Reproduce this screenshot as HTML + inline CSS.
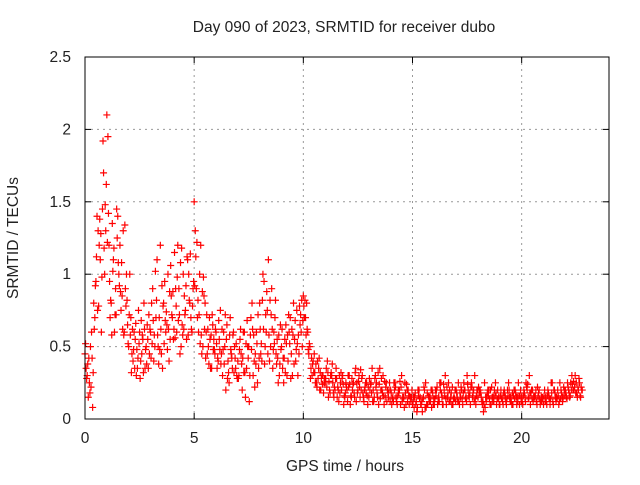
<!DOCTYPE html>
<html><head><meta charset="utf-8"><style>
body{margin:0;background:#fff;}
svg text{font-family:"Liberation Sans",sans-serif;font-size:15.5px;fill:#222;}
</style></head><body>
<svg id="chart" width="640" height="480" viewBox="0 0 640 480" xmlns="http://www.w3.org/2000/svg">
<rect width="640" height="480" fill="#fff"/>
<text x="344" y="32" text-anchor="middle">Day 090 of 2023, SRMTID for receiver dubo</text>
<text x="345" y="471" text-anchor="middle">GPS time / hours</text>
<text x="0" y="0" transform="translate(18,238) rotate(-90)" text-anchor="middle">SRMTID / TECUs</text>
<g id="grid"></g><g id="ticks"></g><g id="pts"></g>
<rect x="85" y="57" width="524" height="362" fill="none" stroke="#000" stroke-width="1"/>
</svg>
<script>
const xTicks=[0,5,10,15,20];
const yTicks=[0,0.5,1,1.5,2,2.5];
const yTickLabels=["0","0.5","1","1.5","2","2.5"];
const stepHours=0.1;
const seriesAStart=0.0;
const seriesBStart=0.05;
const seriesCStart=0.025;
const seriesDStart=0.075;
const seriesA=[0.45,0.3,0.25,0.6,0.8,0.95,1.3,1.1,1.45,1.0,
2.1,1.2,0.8,1.1,0.9,1.4,1.2,0.85,0.6,1.0,
0.5,0.7,0.4,0.55,0.35,0.6,0.45,0.8,0.5,0.35,
0.6,0.9,0.5,1.1,0.7,0.45,0.8,0.6,1.0,0.55,
0.7,1.15,0.6,0.9,0.5,1.0,0.75,1.1,0.8,0.6,
1.5,0.9,0.6,1.2,0.5,0.8,0.45,0.7,0.35,0.55,
0.6,0.4,0.75,0.3,0.5,0.65,0.25,0.45,0.6,0.35,
0.4,0.55,0.2,0.6,0.35,0.5,0.7,0.3,0.45,0.25,
0.8,0.4,0.95,0.6,1.1,0.5,0.35,0.7,0.55,0.3,
0.5,0.25,0.65,0.4,0.7,0.3,0.55,0.75,0.45,0.6,
0.85,0.7,0.6,0.5,0.3,0.45,0.25,0.35,0.2,0.3,
0.25,0.4,0.2,0.3,0.15,0.35,0.2,0.25,0.3,0.15,
0.2,0.3,0.15,0.25,0.35,0.2,0.15,0.3,0.2,0.25,
0.15,0.25,0.2,0.3,0.15,0.35,0.2,0.1,0.25,0.15,
0.2,0.15,0.25,0.1,0.2,0.3,0.15,0.1,0.2,0.15,
0.1,0.15,0.05,0.2,0.1,0.15,0.25,0.1,0.15,0.2,
0.1,0.2,0.15,0.25,0.1,0.3,0.15,0.2,0.1,0.15,
0.2,0.25,0.15,0.1,0.2,0.3,0.15,0.25,0.2,0.1,
0.15,0.2,0.1,0.25,0.15,0.2,0.1,0.15,0.25,0.2,
0.1,0.15,0.2,0.1,0.25,0.15,0.1,0.2,0.15,0.1,
0.15,0.2,0.25,0.15,0.1,0.2,0.15,0.1,0.2,0.15,
0.1,0.15,0.2,0.1,0.25,0.2,0.15,0.1,0.2,0.15,
0.2,0.25,0.15,0.3,0.2,0.25,0.2,0.15];
const seriesB=[0.35,0.15,0.5,0.08,0.7,1.4,1.2,0.6,1.7,1.3,
1.95,0.7,1.35,0.6,1.45,1.0,0.75,1.3,0.9,0.65,
1.0,0.45,0.6,0.3,0.75,0.4,0.55,0.35,0.65,0.45,
0.8,0.4,0.7,0.5,1.2,0.35,0.95,0.65,0.4,0.85,
0.55,0.9,1.2,0.45,0.65,0.85,0.55,1.0,0.7,0.9,
1.3,0.7,1.0,0.45,0.85,0.6,0.5,0.35,0.65,0.45,
0.35,0.55,0.45,0.6,0.2,0.4,0.7,0.35,0.5,0.3,
0.3,0.45,0.6,0.15,0.5,0.3,0.8,0.4,0.6,0.35,
0.45,1.0,0.5,0.75,0.4,0.9,0.6,0.45,0.25,0.65,
0.35,0.55,0.3,0.6,0.45,0.8,0.4,0.3,0.65,0.5,
0.7,0.8,0.45,0.35,0.4,0.25,0.4,0.2,0.3,0.25,
0.35,0.15,0.3,0.25,0.2,0.15,0.3,0.2,0.1,0.25,
0.3,0.1,0.2,0.15,0.25,0.3,0.2,0.15,0.25,0.1,
0.2,0.35,0.15,0.25,0.1,0.2,0.3,0.15,0.2,0.25,
0.1,0.25,0.15,0.2,0.1,0.15,0.25,0.2,0.1,0.15,
0.15,0.1,0.2,0.15,0.05,0.2,0.1,0.15,0.2,0.1,
0.2,0.1,0.25,0.15,0.2,0.1,0.25,0.15,0.1,0.2,
0.15,0.1,0.2,0.25,0.15,0.2,0.1,0.15,0.3,0.2,
0.2,0.15,0.05,0.15,0.2,0.1,0.15,0.2,0.1,0.15,
0.2,0.1,0.15,0.2,0.15,0.1,0.2,0.15,0.25,0.2,
0.1,0.15,0.2,0.3,0.2,0.15,0.2,0.15,0.1,0.15,
0.2,0.1,0.15,0.25,0.1,0.15,0.2,0.25,0.15,0.2,
0.15,0.2,0.25,0.2,0.3,0.15,0.25,0.2];
const seriesC=[0.52,0.38,0.18,0.42,0.62,1.12,0.78,1.28,1.92,1.48,
1.22,0.95,0.58,1.18,0.72,1.08,0.88,0.62,1.34,0.82,
0.72,0.32,0.48,0.66,0.42,0.28,0.58,0.62,0.38,0.72,
0.42,0.68,1.02,0.58,0.48,0.92,0.52,0.74,0.62,1.06,
0.88,0.56,0.98,0.72,1.18,0.62,0.92,0.58,1.14,0.78,
0.92,1.22,0.72,0.58,0.98,0.42,0.62,0.55,0.72,0.48,
0.52,0.68,0.38,0.48,0.72,0.28,0.58,0.42,0.32,0.52,
0.28,0.62,0.42,0.32,0.68,0.12,0.48,0.58,0.38,0.72,
0.62,0.82,0.38,0.88,0.58,0.72,0.48,0.82,0.42,0.38,
0.62,0.42,0.52,0.72,0.28,0.58,0.68,0.52,0.78,0.82,
0.78,0.58,0.48,0.28,0.38,0.32,0.22,0.42,0.28,0.18,
0.28,0.32,0.18,0.38,0.22,0.28,0.12,0.32,0.24,0.18,
0.12,0.24,0.28,0.18,0.12,0.26,0.34,0.18,0.22,0.16,
0.28,0.18,0.12,0.22,0.32,0.14,0.18,0.26,0.12,0.2,
0.18,0.12,0.22,0.16,0.26,0.12,0.08,0.24,0.16,0.12,
0.12,0.18,0.08,0.14,0.12,0.22,0.08,0.16,0.12,0.18,
0.14,0.22,0.12,0.18,0.24,0.14,0.18,0.12,0.22,0.14,
0.18,0.12,0.22,0.18,0.14,0.24,0.18,0.22,0.12,0.16,
0.22,0.18,0.12,0.08,0.18,0.14,0.22,0.12,0.18,0.14,
0.16,0.12,0.18,0.14,0.2,0.12,0.16,0.18,0.12,0.16,
0.12,0.18,0.22,0.14,0.18,0.12,0.16,0.22,0.14,0.12,
0.16,0.12,0.18,0.14,0.12,0.18,0.14,0.12,0.18,0.22,
0.18,0.22,0.16,0.24,0.22,0.18,0.28,0.22];
const seriesD=[0.28,0.42,0.22,0.32,0.92,0.75,1.38,0.98,1.18,1.62,
1.42,0.82,1.02,0.72,1.25,0.92,1.08,0.58,0.78,0.52,
0.58,0.62,0.35,0.48,0.52,0.68,0.32,0.48,0.55,0.62,
0.52,0.58,0.82,0.38,0.62,0.78,0.68,0.48,0.88,0.72,
0.62,0.78,0.68,1.08,0.58,0.72,1.12,0.82,0.62,0.95,
1.12,0.82,0.52,0.88,0.62,0.72,0.38,0.58,0.48,0.62,
0.42,0.48,0.62,0.38,0.55,0.32,0.48,0.58,0.42,0.28,
0.48,0.38,0.32,0.52,0.42,0.58,0.62,0.22,0.52,0.42,
0.52,0.62,0.72,0.45,0.82,0.62,0.52,0.38,0.58,0.48,
0.42,0.32,0.58,0.52,0.62,0.38,0.48,0.58,0.72,0.68,
0.82,0.62,0.52,0.42,0.32,0.38,0.28,0.32,0.24,0.28,
0.22,0.26,0.32,0.18,0.28,0.22,0.18,0.28,0.16,0.22,
0.22,0.16,0.24,0.32,0.18,0.22,0.28,0.12,0.18,0.22,
0.24,0.12,0.28,0.18,0.24,0.28,0.16,0.22,0.18,0.12,
0.14,0.2,0.12,0.18,0.22,0.14,0.18,0.12,0.16,0.2,
0.08,0.12,0.16,0.1,0.14,0.08,0.18,0.12,0.08,0.14,
0.16,0.12,0.2,0.1,0.16,0.22,0.12,0.18,0.14,0.12,
0.12,0.18,0.14,0.2,0.12,0.16,0.22,0.18,0.14,0.2,
0.18,0.12,0.1,0.12,0.16,0.2,0.12,0.16,0.14,0.1,
0.14,0.18,0.12,0.16,0.12,0.18,0.14,0.1,0.16,0.12,
0.16,0.12,0.24,0.18,0.14,0.16,0.12,0.18,0.12,0.14,
0.12,0.16,0.14,0.18,0.2,0.12,0.16,0.14,0.12,0.16,
0.14,0.18,0.2,0.26,0.18,0.22,0.16,0.2];

const NS="http://www.w3.org/2000/svg";
const X0=85,X1=609,Y0=419,Y1=57,XMAX=24,YMAX=2.5;
function xs(v){return X0+(X1-X0)*v/XMAX;}
function ys(v){return Y0-(Y0-Y1)*v/YMAX;}
function mk(tag,attrs,parent){const e=document.createElementNS(NS,tag);for(const k in attrs)e.setAttribute(k,attrs[k]);parent.appendChild(e);return e;}
const grid=document.getElementById('grid'),ticks=document.getElementById('ticks'),pts=document.getElementById('pts');
xTicks.forEach(t=>{
  const x=xs(t);
  if(t>0){const g=mk('line',{x1:x,x2:x,y1:Y1,y2:Y0,stroke:'#999','stroke-dasharray':'2,4'},grid);
  
  }
  mk('line',{x1:x,x2:x,y1:Y0,y2:Y0-6,stroke:'#000'},ticks);
  mk('line',{x1:x,x2:x,y1:Y1,y2:Y1+6,stroke:'#000'},ticks);
  const l=mk('text',{x:x,y:Y0+24,'text-anchor':'middle'},ticks);l.textContent=String(t);
  
  
});
yTicks.forEach((t,i)=>{
  const y=ys(t);
  if(t>0&&t<YMAX){const g=mk('line',{x1:X0,x2:X1,y1:y,y2:y,stroke:'#999','stroke-dasharray':'2,4'},grid);
  
  }
  mk('line',{x1:X0,x2:X0+6,y1:y,y2:y,stroke:'#000'},ticks);
  mk('line',{x1:X1,x2:X1-6,y1:y,y2:y,stroke:'#000'},ticks);
  const l=mk('text',{x:X0-14,y:y+5,'text-anchor':'end'},ticks);l.textContent=yTickLabels[i];
  
  
});
let d='';
function addSeries(vals,start){vals.forEach((v,i)=>{const x=xs(start+i*stepHours),y=ys(v);d+=`M${x-3.5},${y}h7M${x},${y-3.5}v7`;});}
addSeries(seriesA,seriesAStart);
addSeries(seriesB,seriesBStart);
addSeries(seriesC,seriesCStart);
addSeries(seriesD,seriesDStart);
const p=mk('path',{d:d,stroke:'#f00','stroke-width':1.2,fill:'none'},pts);


</script>
</body></html>
